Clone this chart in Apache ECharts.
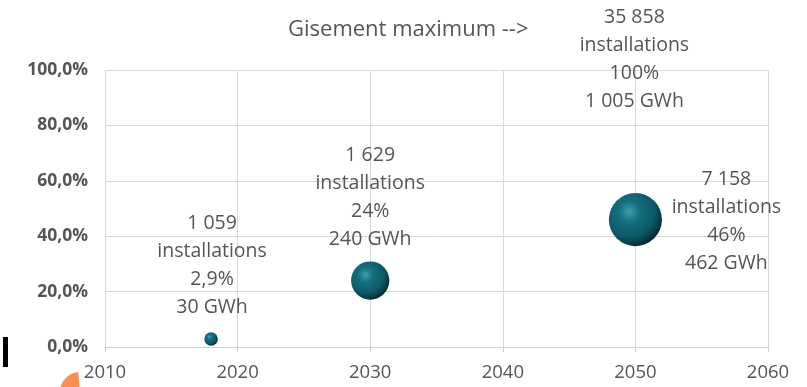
<!DOCTYPE html>
<html>
<head>
<meta charset="utf-8">
<script src="https://cdn.jsdelivr.net/npm/echarts@6/dist/echarts.min.js"></script>
<style>
html,body{margin:0;padding:0;background:#fff;}
#chart{width:807px;height:387px;}
</style>
</head>
<body>
<div id="chart"></div>
<script>
// ---- Data ----
const years = [2018, 2030, 2050, 2050];
const sharePct = [2.9, 24, 46, 100];
const installations = ['1 059', '1 629', '7 158', '35 858'];
const shareLabels = ['2,9%', '24%', '46%', '100%'];
const energyGWh = [30, 240, 462, 1005];
const visible = [true, true, true, false];
const xTicks = [2010, 2020, 2030, 2040, 2050, 2060];
const yTicks = [0, 20, 40, 60, 80, 100];
const titleText = 'Gisement maximum -->';

// ---- Layout (styles, not data) ----
const labelOffsets = [[1, -74], [0, -83], [91, 2], [-1, -11]];
const FONT = '"Open Sans", sans-serif';
const GREY = '#555555';

const fmtGWh = v => v.toString().replace(/\B(?=(\d{3})+(?!\d))/g, ' ') + ' GWh';

const bubbleColor = {
  type: 'radial', x: 0.38, y: 0.35, r: 0.68,
  colorStops: [
    { offset: 0, color: '#3f9fb0' },
    { offset: 0.28, color: '#16707f' },
    { offset: 0.7, color: '#0d5867' },
    { offset: 0.9, color: '#073a45' },
    { offset: 1, color: '#03222a' }
  ]
};

const seriesData = years.map((y, i) => ({
  value: [y, sharePct[i], energyGWh[i]],
  itemStyle: { color: visible[i] ? bubbleColor : 'rgba(0,0,0,0)', opacity: 1 },
  label: {
    show: true,
    position: 'inside',
    offset: labelOffsets[i],
    formatter: installations[i] + '\ninstallations\n' + shareLabels[i] + '\n' + fmtGWh(energyGWh[i])
  }
}));

const chart = echarts.init(document.getElementById('chart'), null, { renderer: 'canvas' });
chart.setOption({
  animation: false,
  backgroundColor: '#ffffff',
  grid: { left: 105, right: 39, top: 70, bottom: 40, containLabel: false },
  xAxis: {
    type: 'value',
    min: xTicks[0], max: xTicks[xTicks.length - 1], interval: 10,
    axisLine: { show: true, lineStyle: { color: '#cfcfcf', width: 1 } },
    axisTick: { show: true, length: 5, lineStyle: { color: '#cfcfcf' } },
    splitLine: { show: true, lineStyle: { color: '#d9d9d9', width: 1 } },
    axisLabel: {
      color: GREY, fontFamily: FONT, fontSize: 18.5, margin: 16, showMinLabel: true, showMaxLabel: true,
      formatter: v => String(v)
    }
  },
  yAxis: {
    type: 'value',
    min: yTicks[0], max: yTicks[yTicks.length - 1], interval: 20,
    axisLine: { show: false },
    axisTick: { show: false },
    splitLine: { show: true, lineStyle: { color: '#d9d9d9', width: 1 } },
    axisLabel: {
      color: GREY, fontFamily: FONT, fontSize: 17.5, fontWeight: 'bold', margin: 17,
      formatter: v => v.toFixed(1).replace('.', ',') + '%'
    }
  },
  graphic: [
    { type: 'text', left: 288, top: 19, style: { text: titleText, fill: GREY, font: '22px "Open Sans", sans-serif' } },
    { type: 'rect', shape: { x: 3, y: 337, width: 5, height: 30 }, style: { fill: '#000' } },
    { type: 'sector', shape: { cx: 80, cy: 392, r: 20, startAngle: Math.PI * 1.0, endAngle: Math.PI * 1.47 }, style: { fill: '#f98d52' } }
  ],
  series: [{
    type: 'scatter',
    data: seriesData,
    symbol: 'circle',
    symbolSize: v => 2.47 * Math.sqrt(v[2]),
    itemStyle: { opacity: 1 },
    label: {
      color: GREY, fontFamily: FONT, fontSize: 19.5, lineHeight: 28, align: 'center', verticalAlign: 'middle',
      textBorderWidth: 0, textShadowBlur: 0, opacity: 1
    },
    emphasis: { disabled: true }
  }]
});
</script>
</body>
</html>
